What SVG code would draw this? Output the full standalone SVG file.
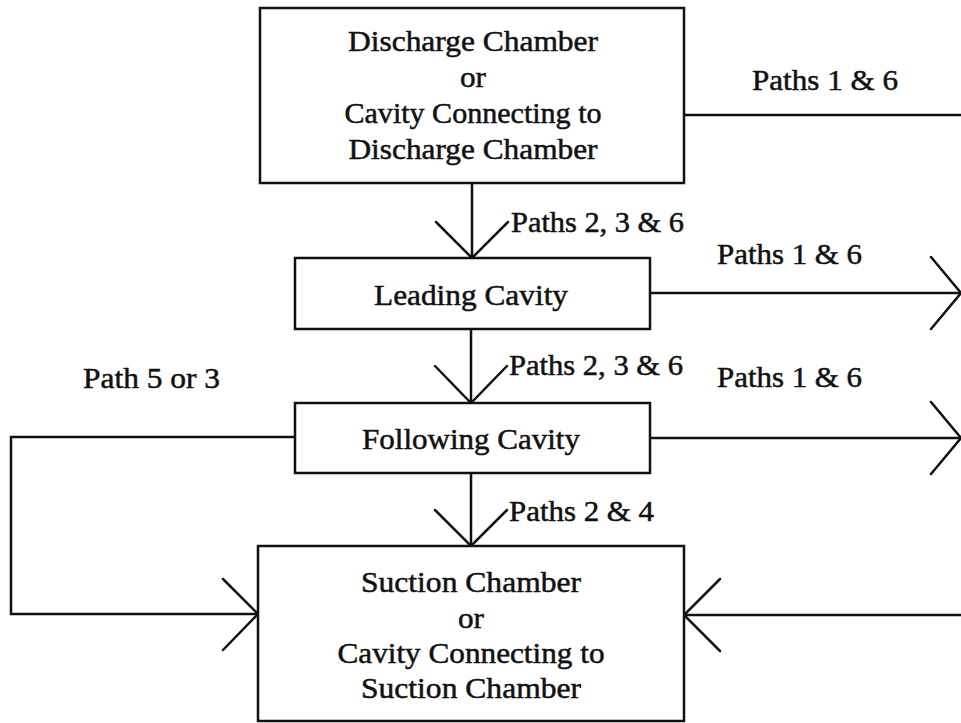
<svg xmlns="http://www.w3.org/2000/svg" width="961" height="723" viewBox="0 0 961 723">
  <style>
    .box { fill: #ffffff; stroke: #111111; stroke-width: 2.5; }
    .wire { fill: none; stroke: #111111; stroke-width: 2.5; stroke-linecap: round; stroke-linejoin: miter; }
    text { font-family: "Liberation Serif", "Times New Roman", serif; font-size: 29px; fill: #111111; stroke: #111111; stroke-width: 0.5; }
    .mid { text-anchor: middle; }
  </style>
  <rect width="961" height="723" fill="#ffffff"/>

  <!-- connectors -->
  <g id="connectors" class="wire">
    <!-- discharge chamber to leading cavity -->
    <path d="M472 183 V258"/>
    <path d="M436 222 L472 258 L508 222"/>
    <!-- leading cavity to following cavity -->
    <path d="M471 329 V403"/>
    <path d="M435 366 L471 403 L507 366"/>
    <!-- following cavity to suction chamber -->
    <path d="M471 473 V546"/>
    <path d="M435 510 L471 546 L507 510"/>
    <!-- discharge chamber, paths 1 & 6 -->
    <path d="M684 115 H961"/>
    <!-- leading cavity, paths 1 & 6 -->
    <path d="M650 293 H961"/>
    <path d="M931 257 L961 293 L931 329"/>
    <!-- following cavity, paths 1 & 6 -->
    <path d="M650 438 H961"/>
    <path d="M931 402 L961 438 L931 474"/>
    <!-- following cavity around to suction chamber, path 5 or 3 -->
    <path d="M295 437 H11 V614 H258"/>
    <path d="M223 579 L258 614 L223 650"/>
    <!-- return into suction chamber from the right -->
    <path d="M961 615 H684"/>
    <path d="M720 579 L684 615 L720 651"/>
  </g>

  <!-- connector labels -->
  <g id="labels">
    <text x="752" y="90" textLength="146" lengthAdjust="spacingAndGlyphs">Paths 1 &amp; 6</text>
    <text x="511" y="232" textLength="173" lengthAdjust="spacingAndGlyphs">Paths 2, 3 &amp; 6</text>
    <text x="717" y="264" textLength="145" lengthAdjust="spacingAndGlyphs">Paths 1 &amp; 6</text>
    <text x="509" y="375" textLength="174" lengthAdjust="spacingAndGlyphs">Paths 2, 3 &amp; 6</text>
    <text x="83" y="388" textLength="137" lengthAdjust="spacingAndGlyphs">Path 5 or 3</text>
    <text x="717" y="387" textLength="145" lengthAdjust="spacingAndGlyphs">Paths 1 &amp; 6</text>
    <text x="509" y="521" textLength="145" lengthAdjust="spacingAndGlyphs">Paths 2 &amp; 4</text>
  </g>

  <g id="discharge-chamber">
    <rect class="box" x="260" y="8" width="424" height="175"/>
    <text class="mid" x="473" y="51" textLength="250" lengthAdjust="spacingAndGlyphs">Discharge Chamber</text>
    <text class="mid" x="473" y="87" textLength="26" lengthAdjust="spacingAndGlyphs">or</text>
    <text class="mid" x="473" y="123" textLength="257" lengthAdjust="spacingAndGlyphs">Cavity Connecting to</text>
    <text class="mid" x="473" y="159" textLength="249" lengthAdjust="spacingAndGlyphs">Discharge Chamber</text>
  </g>

  <g id="leading-cavity">
    <rect class="box" x="295" y="258" width="355" height="71"/>
    <text class="mid" x="471" y="305" textLength="194" lengthAdjust="spacingAndGlyphs">Leading Cavity</text>
  </g>

  <g id="following-cavity">
    <rect class="box" x="295" y="403" width="355" height="70"/>
    <text class="mid" x="471" y="449" textLength="218" lengthAdjust="spacingAndGlyphs">Following Cavity</text>
  </g>

  <g id="suction-chamber">
    <rect class="box" x="258" y="546" width="426" height="175"/>
    <text class="mid" x="471" y="592" textLength="220" lengthAdjust="spacingAndGlyphs">Suction Chamber</text>
    <text class="mid" x="471" y="628" textLength="26" lengthAdjust="spacingAndGlyphs">or</text>
    <text class="mid" x="471" y="663" textLength="267" lengthAdjust="spacingAndGlyphs">Cavity Connecting to</text>
    <text class="mid" x="471" y="698" textLength="220" lengthAdjust="spacingAndGlyphs">Suction Chamber</text>
  </g>
</svg>
